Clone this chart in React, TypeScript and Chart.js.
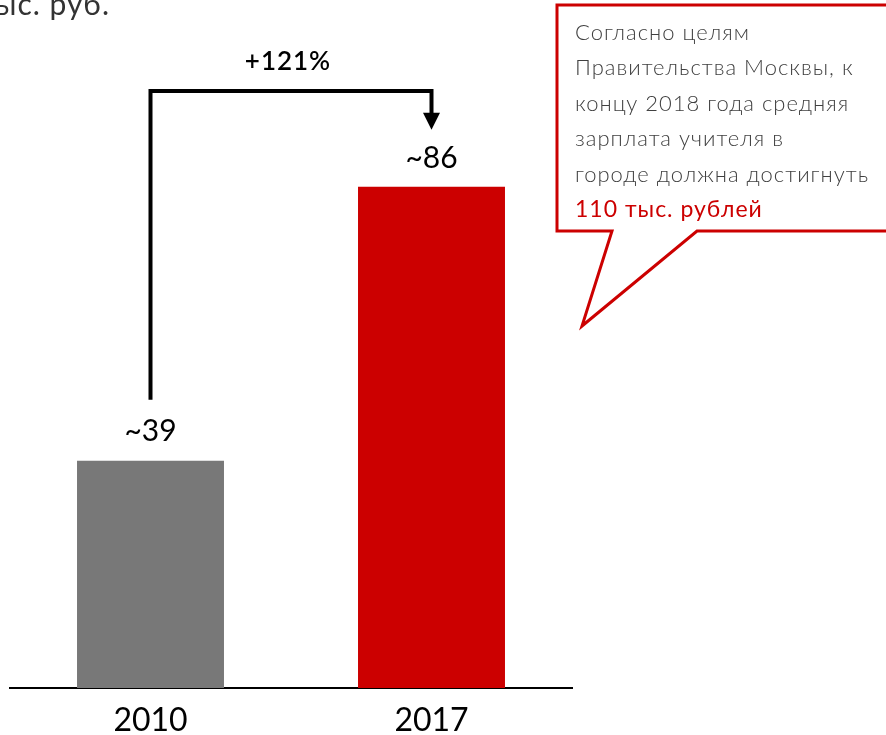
import React, { useEffect, useRef } from "react";
import { Chart, registerables } from "chart.js";

Chart.register(...registerables);

const categories = ["2010", "2017"];
const values = [39, 86];
const valueLabels = ["~39", "~86"];
const barColors = ["#787878", "#CC0000"];
const growthLabel = "+121%";
const unitLabel = "тыс. руб.";
const calloutLines = [
  "Согласно целям",
  "Правительства Москвы, к",
  "концу 2018 года средняя",
  "зарплата учителя в",
  "городе должна достигнуть",
];
const calloutHighlight = "110 тыс. рублей";

const FONT = "Lato, 'Open Sans', sans-serif";

const overlayPlugin = {
  id: "overlay",
  afterDraw(chart: any) {
    const ctx = chart.ctx as any;
    const xs = chart.scales.x;
    const ys = chart.scales.y;
    const x0 = xs.getPixelForValue(0);
    const x1 = xs.getPixelForValue(1);
    const t0 = ys.getPixelForValue(values[0]);
    const t1 = ys.getPixelForValue(values[1]);

    ctx.save();
    // unit label (partly off-canvas, as in reference)
    ctx.fillStyle = "#333333";
    ctx.font = `30px ${FONT}`;
    ctx.textAlign = "right";
    ctx.textBaseline = "alphabetic";
    ctx.letterSpacing = "1px";
    ctx.fillText(unitLabel, 110, 15);

    // value labels
    ctx.fillStyle = "#000000";
    ctx.font = `30px ${FONT}`;
    ctx.textAlign = "center";
    ctx.textBaseline = "middle";
    ctx.letterSpacing = "0px";
    ctx.fillText(valueLabels[0], x0, t0 - 29);
    ctx.fillText(valueLabels[1], x1, t1 - 29);

    // bracket
    const topY = 91;
    const arrowTip = t1 - 57;
    const arrowBase = arrowTip - 17;
    ctx.strokeStyle = "#000000";
    ctx.lineWidth = 4;
    ctx.lineJoin = "miter";
    ctx.beginPath();
    ctx.moveTo(x0, t0 - 61);
    ctx.lineTo(x0, topY);
    ctx.lineTo(x1, topY);
    ctx.lineTo(x1, arrowBase + 1);
    ctx.stroke();
    ctx.fillStyle = "#000000";
    ctx.beginPath();
    ctx.moveTo(x1 - 8.5, arrowBase);
    ctx.lineTo(x1 + 8.5, arrowBase);
    ctx.lineTo(x1, arrowTip);
    ctx.closePath();
    ctx.fill();

    ctx.font = `600 26px ${FONT}`;
    ctx.textAlign = "center";
    ctx.textBaseline = "middle";
    ctx.letterSpacing = "1px";
    ctx.fillText(growthLabel, (x0 + x1) / 2 - 3, 62);

    // callout
    ctx.beginPath();
    ctx.moveTo(557, 5);
    ctx.lineTo(900, 5);
    ctx.lineTo(900, 231);
    ctx.lineTo(697, 231);
    ctx.lineTo(582, 326);
    ctx.lineTo(612, 231);
    ctx.lineTo(557, 231);
    ctx.closePath();
    ctx.fillStyle = "#ffffff";
    ctx.fill();
    ctx.strokeStyle = "#CC0000";
    ctx.lineWidth = 3;
    ctx.stroke();

    ctx.textAlign = "left";
    ctx.textBaseline = "middle";
    ctx.letterSpacing = "1px";
    ctx.font = `300 22px ${FONT}`;
    ctx.fillStyle = "#404040";
    calloutLines.forEach((line, i) => {
      ctx.fillText(line, 575, 33 + i * 35.4);
    });
    ctx.font = `23px ${FONT}`;
    ctx.fillStyle = "#CC0000";
    ctx.fillText(calloutHighlight, 575, 33 + calloutLines.length * 35.4);
    ctx.restore();
  },
};

export default function App() {
  const ref = useRef<HTMLCanvasElement>(null);
  useEffect(() => {
    if (!ref.current) return;
    const chart = new Chart(ref.current, {
      type: "bar",
      data: {
        labels: categories,
        datasets: [
          {
            data: values,
            backgroundColor: barColors,
            borderWidth: 0,
            categoryPercentage: 1,
            barPercentage: 0.523,
          },
        ],
      },
      options: {
        responsive: false,
        animation: false,
        events: [],
        layout: { padding: { left: 10, right: 314, top: 47, bottom: 0 } },
        plugins: {
          legend: { display: false },
          tooltip: { enabled: false },
          title: { display: false },
        },
        scales: {
          x: {
            grid: { display: false, drawTicks: false },
            border: { display: true, color: "#000000", width: 2 },
            ticks: {
              color: "#000000",
              font: { family: FONT, size: 32 },
              padding: 13,
            },
            afterFit: (scale: any) => {
              scale.height = 47;
            },
          },
          y: {
            display: false,
            min: 0,
            max: 110,
          },
        },
      },
      plugins: [overlayPlugin],
    });
    return () => chart.destroy();
  }, []);
  return (
    <div style={{ position: "absolute", left: 0, top: 0, width: 886, height: 735, background: "#ffffff" }}>
      <canvas ref={ref} width={886} height={735} style={{ display: "block" }} />
    </div>
  );
}
